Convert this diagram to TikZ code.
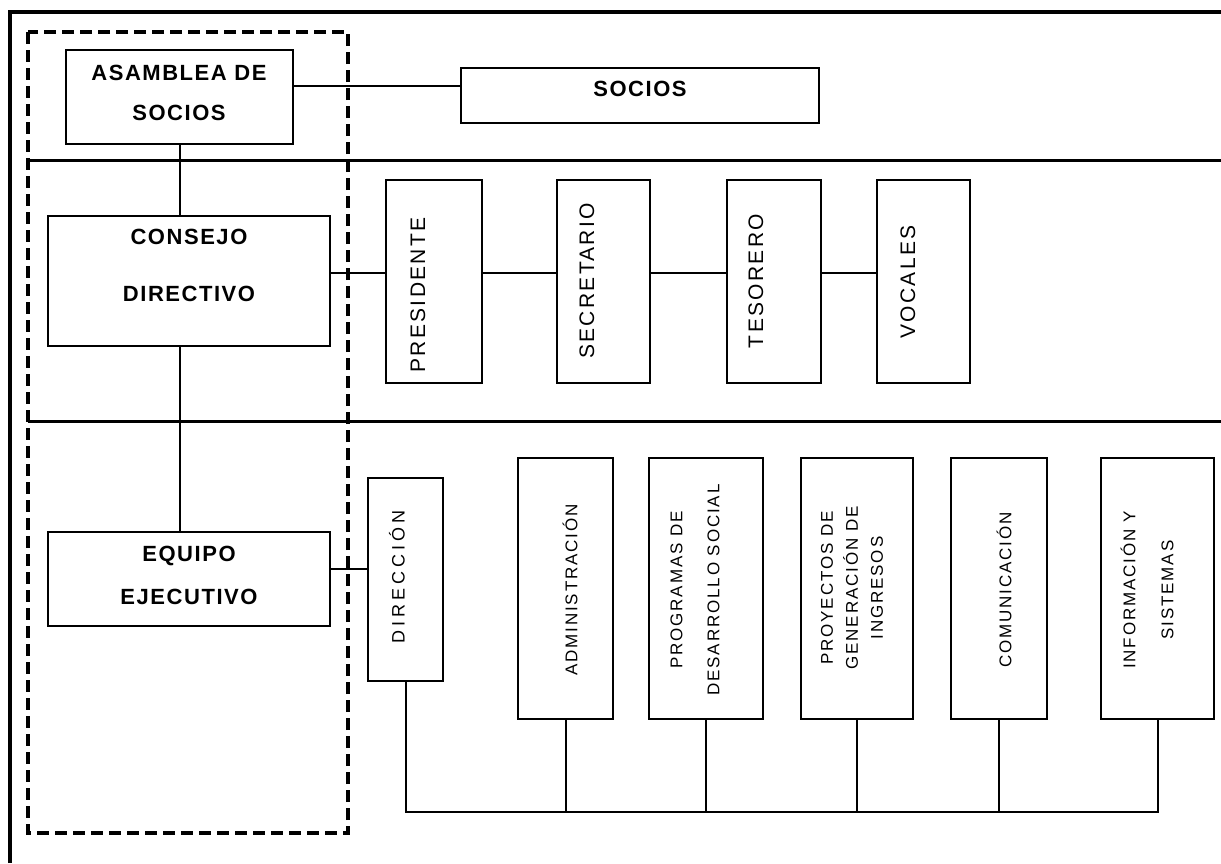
\documentclass[tikz,border=0pt]{standalone}
\usepackage{fontspec}
\setmainfont{Liberation Sans}
\newfontfamily\vfont[LetterSpace=11]{Liberation Sans}
\newfontfamily\dfont[LetterSpace=22]{Liberation Sans}
\newfontfamily\hfont[LetterSpace=7]{Liberation Sans}
\begin{document}
\begin{tikzpicture}[x=1pt,y=-1pt,
  boxst/.style={draw, line width=2pt, rectangle, inner sep=0pt},
  btxt/.style={font=\hfont\bfseries\fontsize{22}{40}\selectfont, align=center, inner sep=0pt},
  vtop/.style={font=\vfont\fontsize{21}{24}\selectfont, rotate=90, align=center, inner sep=0pt},
  vbot/.style={font=\vfont\fontsize{17}{25}\selectfont, rotate=90, align=center, inner sep=0pt},
  conn/.style={line width=2pt},
  divider/.style={line width=3pt},
  frame/.style={line width=4.5pt},
  group/.style={line width=3.5pt, dash pattern=on 12pt off 6pt}]
\useasboundingbox (0,0) rectangle (1221,863);
\fill[white] (0,0) rectangle (1221,863);
% frame
\draw[frame] (10,863) -- (10,12) -- (1221,12);
% dividers
\draw[divider] (28,160) -- (1221,160);
\draw[divider] (28,421) -- (1221,421);
% dashed group
\draw[group] (28,32) rectangle (348,833);
% boxes
\node[boxst, minimum width=227pt, minimum height=94pt] (asam) at (179.5,97) {};
\node[boxst, minimum width=358pt, minimum height=55pt] (socios) at (640,95.5) {};
\node[boxst, minimum width=282pt, minimum height=130pt] (consejo) at (189,281) {};
\node[boxst, minimum width=282pt, minimum height=94pt] (equipo) at (189,579) {};
\node[boxst, minimum width=96pt, minimum height=203pt] (pres) at (434,281.5) {};
\node[boxst, minimum width=93pt, minimum height=203pt] (secr) at (603.5,281.5) {};
\node[boxst, minimum width=94pt, minimum height=203pt] (teso) at (774,281.5) {};
\node[boxst, minimum width=93pt, minimum height=203pt] (voc) at (923.5,281.5) {};
\node[boxst, minimum width=75pt, minimum height=203pt] (dir) at (405.5,579.5) {};
\node[boxst, minimum width=95pt, minimum height=261pt] (adm) at (565.5,588.5) {};
\node[boxst, minimum width=114pt, minimum height=261pt] (prog) at (706,588.5) {};
\node[boxst, minimum width=112pt, minimum height=261pt] (proy) at (857,588.5) {};
\node[boxst, minimum width=96pt, minimum height=261pt] (com) at (999,588.5) {};
\node[boxst, minimum width=113pt, minimum height=261pt] (info) at (1157.5,588.5) {};
% texts
\node[btxt] (tasam) at (179,93) {ASAMBLEA DE\\SOCIOS};
\node[btxt] (tsocios) at (640,89) {SOCIOS};
\node[btxt, font=\hfont\bfseries\fontsize{22}{57}\selectfont] (tconsejo) at (189,265.5) {CONSEJO\\DIRECTIVO};
\node[btxt, font=\hfont\bfseries\fontsize{22}{43}\selectfont] (tequipo) at (189,575.5) {EQUIPO\\EJECUTIVO};
\node[vtop] (tpres) at (418,295) {PRESIDENTE};
\node[vtop] (tsecr) at (587,281) {SECRETARIO};
\node[vtop] (tteso) at (756,281) {TESORERO};
\node[vtop] (tvoc) at (908,282) {VOCALES};
\node[vbot, font=\dfont\fontsize{18}{25}\selectfont] (tdir) at (397,577) {DIRECCIÓN};
\node[vbot] (tadm) at (570,590) {ADMINISTRACIÓN};
\node[vbot, font=\vfont\fontsize{17}{37}\selectfont] (tprog) at (695,590) {PROGRAMAS DE\\DESARROLLO SOCIAL};
\node[vbot] (tproy) at (852,588) {PROYECTOS DE\\GENERACIÓN DE\\INGRESOS};
\node[vbot] (tcom) at (1004,590) {COMUNICACIÓN};
\node[vbot, font=\vfont\fontsize{17}{38}\selectfont] (tinfo) at (1147,590) {INFORMACIÓN Y\\SISTEMAS};
% connectors
\draw[conn] ([yshift=11pt]asam.east) -- ([yshift=11pt]asam.east -| socios.west);
\draw[conn] (asam.south) -- (asam.south |- consejo.north);
\draw[conn] (asam.south |- consejo.south) -- (asam.south |- equipo.north);
\draw[conn] ([yshift=8pt]consejo.east) -- ([yshift=8pt]consejo.east -| pres.west);
\draw[conn] ([yshift=8pt]consejo.east -| pres.east) -- ([yshift=8pt]consejo.east -| secr.west);
\draw[conn] ([yshift=8pt]consejo.east -| secr.east) -- ([yshift=8pt]consejo.east -| teso.west);
\draw[conn] ([yshift=8pt]consejo.east -| teso.east) -- ([yshift=8pt]consejo.east -| voc.west);
\draw[conn] ([yshift=10pt]equipo.east) -- ([yshift=10pt]equipo.east -| dir.west);
\coordinate (bus) at (0,812);
\draw[conn] (dir.south) -- (dir.south |- bus) -- (info.south |- bus) -- (info.south);
\draw[conn] (adm.south) -- (adm.south |- bus);
\draw[conn] (prog.south) -- (prog.south |- bus);
\draw[conn] (proy.south) -- (proy.south |- bus);
\draw[conn] (com.south) -- (com.south |- bus);
\end{tikzpicture}
\end{document}
